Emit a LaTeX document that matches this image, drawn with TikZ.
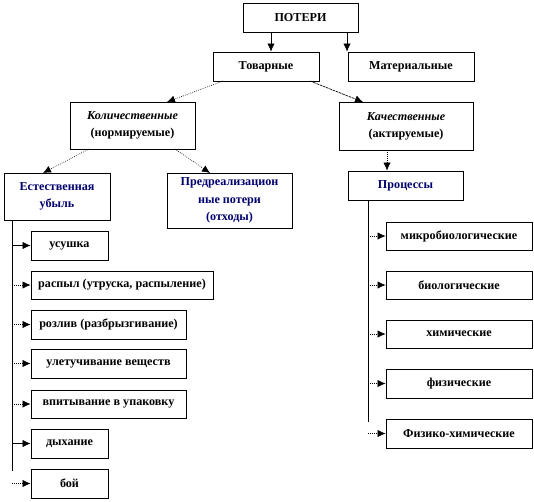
\documentclass[tikz,border=0pt]{standalone}
\usepackage{fontspec}
\setmainfont{Liberation Serif}
\usetikzlibrary{shadows,arrows.meta}
\definecolor{navyt}{RGB}{0,0,110}
% \bx[style]{name}{x1}{y1}{x2}{y2}{text}
\newcommand{\bx}[7][]{%
  \pgfmathsetmacro{\bxw}{0.75*(#5-#3)}%
  \pgfmathsetmacro{\bxh}{0.75*(#6-#4)}%
  \pgfmathsetmacro{\bxcx}{(#3+#5)/2}%
  \pgfmathsetmacro{\bxcy}{(#4+#6)/2}%
  \node[box, #1, minimum width=\bxw pt, minimum height=\bxh pt] (#2) at (\bxcx,\bxcy) {#7};}
\begin{document}
\begin{tikzpicture}[x=0.75pt,y=-0.75pt,
  box/.style={draw=black, line width=0.6pt, fill=white, inner sep=0pt, align=center,
    font=\fontsize{9.1}{13}\selectfont\bfseries,
    drop shadow={shadow xshift=1pt, shadow yshift=-1pt, fill=gray!70, opacity=1}},
  blue/.style={text=navyt},
  arr/.style={line width=0.5pt, -{Latex[length=6pt,width=5.5pt]}},
  dotarr/.style={arr, densely dotted},
  trunk/.style={line width=0.7pt}]
\useasboundingbox (0,0) rectangle (534,501);

% top level
\bx{poteri}{243}{3}{358}{32}{ПОТЕРИ}
\bx{tovar}{213}{52}{319}{81}{Товарные}
\bx{mater}{348}{52}{474}{81}{Материальные}
\bx{kolich}{70}{102}{195}{149}{\textit{Количественные}\\(нормируемые)}
\bx{kach}{339}{102}{473}{150}{\textit{Качественные}\\(актируемые)}
\bx[blue]{estest}{4}{173}{110}{220}{Естественная\\убыль}
\bx[blue]{predr}{167}{173}{292}{228}{Предреализацион\\ные потери\\(отходы)}
\bx[blue]{proc}{348}{171}{463}{200}{Процессы}

% left list
\bx{l1}{31}{231}{108}{260}{усушка}
\bx{l2}{31}{271}{213}{299}{распыл (утруска, распыление)}
\bx{l3}{31}{310}{186}{339}{розлив (разбрызгивание)}
\bx{l4}{31}{349}{186}{378}{улетучивание веществ}
\bx{l5}{31}{390}{186}{418}{впитывание в упаковку}
\bx{l6}{31}{429}{108}{458}{дыхание}
\bx{l7}{31}{469}{108}{498}{бой}

% right list
\bx{r1}{386}{222}{532}{250}{микробиологические}
\bx{r2}{386}{271}{532}{299}{биологические}
\bx{r3}{386}{320}{532}{348}{химические}
\bx{r4}{386}{369}{532}{398}{физические}
\bx{r5}{386}{419}{532}{448}{Физико-химические}

% top connectors
\coordinate (p1) at (271,32);
\coordinate (p2) at (347,32);
\draw[arr] (p1) -- (p1 |- tovar.north);
\draw[arr] (p2) -- (p2 |- mater.north);
\coordinate (t1) at (223,81);
\coordinate (t2) at (310,81);
\coordinate (k1) at (167,102);
\coordinate (k2) at (363,102);
\draw[dotarr] (t1) -- (k1);
\draw[arr, dash pattern=on 2pt off 0.6pt] (t2) -- (k2);
\coordinate (n1) at (89,149);
\coordinate (n2) at (175,149);
\coordinate (e1) at (43,173);
\coordinate (e2) at (210,173);
\draw[dotarr] (n1) -- (e1);
\draw[dotarr] (n2) -- (e2);
\coordinate (q1) at (387,150);
\draw[dotarr] (q1) -- (q1 |- proc.north);

% left trunk
\coordinate (lt0) at (12,220);
\coordinate (lt1) at (12,471);
\draw[trunk] (lt0) -- (lt1);
\draw[arr] (lt0 |- l1.west) -- (l1.west);
\draw[dotarr] (lt0 |- l2.west) -- (l2.west);
\draw[dotarr] (lt0 |- l3.west) -- (l3.west);
\draw[dotarr] (lt0 |- l4.west) -- (l4.west);
\draw[dotarr] (lt0 |- l5.west) -- (l5.west);
\draw[arr] (lt0 |- l6.west) -- (l6.west);
\draw[dotarr] (lt0 |- l7.west) -- (l7.west);

% right trunk
\coordinate (rt0) at (368,200);
\coordinate (rt1) at (368,422);
\draw[trunk] (rt0) -- (rt1);
\draw[dotarr] (rt0 |- r1.west) -- (r1.west);
\draw[dotarr] (rt0 |- r2.west) -- (r2.west);
\draw[dotarr] (rt0 |- r3.west) -- (r3.west);
\draw[dotarr] (rt0 |- r4.west) -- (r4.west);
\draw[dotarr] (rt0 |- r5.west) -- (r5.west);
\end{tikzpicture}
\end{document}
